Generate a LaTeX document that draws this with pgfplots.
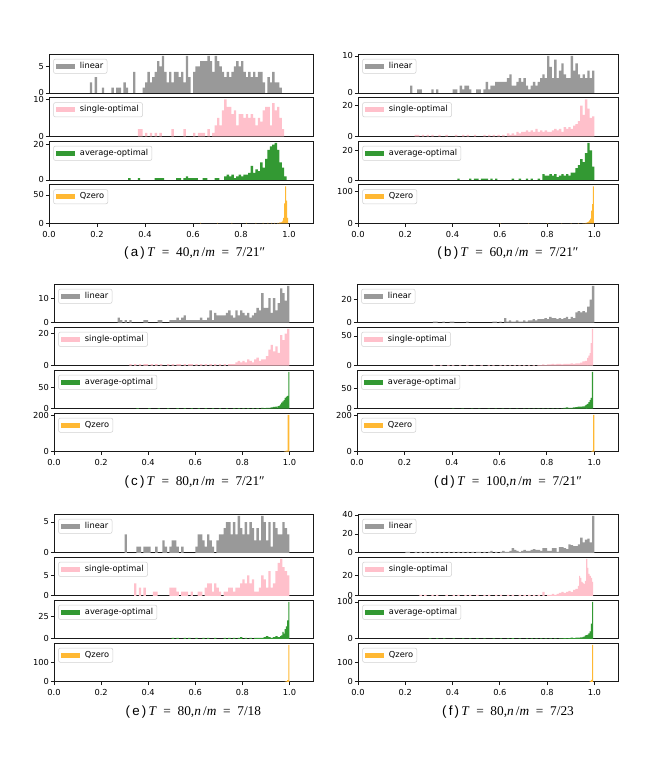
\documentclass[border=0pt]{standalone}
\usepackage{fontspec}
\setmainfont{DejaVu Sans}
\newfontfamily\capserif{Liberation Serif}
\newfontfamily\capsans{Liberation Sans}
\usepackage{pgfplots}
\pgfplotsset{compat=1.18}
\definecolor{cgray}{HTML}{999999}
\definecolor{cpink}{HTML}{FFC0CB}
\definecolor{cgreen}{HTML}{339933}
\definecolor{corange}{HTML}{FFB833}
\newcommand\tickfont{\fontsize{6.2}{7}\selectfont}
\pgfplotsset{
 hb/.style={scale only axis, anchor=north west, xmin=0, xmax=110, ymin=0,
  enlarge y limits={value=0.05,upper},
  axis line style={black!90, line width=0.6pt},
  every tick/.style={black!90, line width=0.5pt},
  major tick length=2.4pt, tick align=outside,
  xtick pos=bottom, ytick pos=left, xtick=\empty,
  ticklabel style={font=\tickfont},
  yticklabel style={inner xsep=1.2pt},
  /pgf/number format/assume math mode=true,
  legend cell align=left,
  legend style={at={(0,1)}, anchor=north west, xshift=3.2pt, yshift=-3.6pt,
    draw=black!18, rounded corners=1.5pt, inner xsep=1.8pt, inner ysep=1.3pt,
    font=\tickfont, nodes={inner sep=1pt},
    /tikz/every odd column/.append style={column sep=3pt},
    /tikz/every even column/.append style={column sep=2pt}},
 },
 hbot/.style={xtick={0,20,40,60,80,100}, xticklabels={0.0,0.2,0.4,0.6,0.8,1.0}},
 leg/.style={legend image code/.code={\fill[##1, sharp corners] (0pt,-1.9pt) rectangle (14pt,1.9pt);}},
 binA/.style={ybar, bar width=1, bar shift=0pt, x filter/.expression={x+0.5}, draw=none, leg},
 binB/.style={ybar, bar width=0.5, bar shift=0pt, x filter/.expression={x+0.25}, draw=none, leg},
 binC/.style={ybar, bar width=0.4, bar shift=0pt, x filter/.expression={x+0.2}, draw=none, leg},
 binD/.style={ybar, bar width=0.8, bar shift=0pt, x filter/.expression={x+0.4}, draw=none, leg},
}
\newcommand\hh[6]{%
\begin{axis}[hb, at={(#1)}, width=#2, height=#3, #4]
#5
\addlegendentry{#6}
\end{axis}}
\newcommand\capt[4]{\node[anchor=center, inner sep=0pt] at (#1) {\fontsize{10}{11}\selectfont{\capsans (\,#2\,)}{\capserif\,\textit{T}\enspace=\enspace#3,\textit{n}\,/\textit{m}\enspace=\enspace#4}};}
\begin{document}
\begin{tikzpicture}
\path[use as bounding box] (0,0) rectangle (498pt,569.25pt);
% ================= (a)
\hh{36.75pt,528.75pt}{198pt}{29.25pt}{ytick={0,5}}{\addplot[binA,fill=cgray] coordinates {(17,2)(19,3)(22,1)(26,1)(28,1)(29,1)(31,2)(32,1)(35,4)(39,1)(40,2)(41,4)(42,2)(43,3)(44,4)(45,6)(46,5)(47,7)(48,4)(49,2)(50,4)(51,2)(52,4)(53,4)(54,3)(55,4)(56,2)(57,7)(58,3)(60,4)(61,5)(62,5)(63,6)(64,6)(65,6)(66,7)(67,6)(68,4)(69,7)(70,6)(71,5)(72,4)(73,3)(74,4)(75,3)(76,4)(77,5)(78,6)(79,5)(80,6)(81,4)(82,3)(83,4)(84,3)(85,4)(86,3)(87,4)(88,4)(89,2)(91,3)(92,2)(93,4)(94,2)(95,2)(96,1)};}{linear}
\hh{36.75pt,496.125pt}{198pt}{29.25pt}{ytick={0,10}}{\addplot[binA,fill=cpink] coordinates {(37,2)(38,2)(40,1)(42,1)(44,1)(46,1)(51,2)(56,2)(60,1)(62,1)(63,1)(64,1)(66,2)(68,1)(69,3)(70,5)(71,3)(72,7)(73,10)(74,8)(75,8)(76,6)(77,7)(78,3)(79,6)(80,6)(81,5)(82,6)(83,5)(84,6)(85,5)(86,3)(87,5)(88,4)(89,7)(90,8)(91,8)(92,3)(93,9)(94,7)(95,8)(96,5)(97,2)};}{single-optimal}
\hh{36.75pt,463.5pt}{198pt}{29.25pt}{ytick={0,20}}{\addplot[binA,fill=cgreen] coordinates {(33,1)(37,1)(44,1)(45,1)(46,1)(47,1)(53,1)(54,1)(56,1)(57,2)(58,1)(59,1)(60,1)(61,1)(64,1)(65,1)(69,1)(70,1)(73,2)(74,3)(75,2)(76,3)(77,1)(78,2)(79,3)(80,2)(81,3)(82,3)(83,4)(84,8)(85,4)(86,6)(87,5)(88,10)(89,7)(90,12)(91,17)(92,19)(93,20)(94,21)(95,17)(96,10)(97,7)(98,2)};}{average-optimal}
\hh{36.75pt,430.875pt}{198pt}{29.25pt}{ytick={0,50},hbot}{\addplot[binC,fill=corange] coordinates {(63,1)(70,1)(76,1)(82,1)(86,1)(89,1)(91,1)(92.6,1)(93.8,1)(95.0,1)(95.6,1)(96.0,2)(96.4,2)(96.8,3)(97.2,5)(97.6,10)(98.0,35)(98.4,65)(98.8,40)(99.2,10)};}{Qzero}
\capt{146pt,379.5pt}{a}{40}{7/21″}
% ================= (b)
\hh{268.5pt,528.75pt}{195pt}{29.25pt}{ytick={0,10}}{\addplot[binA,fill=cgray] coordinates {(22,2)(25,1)(26,1)(31,1)(33,1)(40,1)(41,1)(43,2)(44,1)(45,2)(46,2)(47,1)(50,1)(51,1)(53,1)(54,3)(55,1)(56,2)(57,2)(58,3)(59,3)(60,3)(61,3)(62,3)(63,4)(64,5)(65,2)(66,2)(67,3)(68,4)(69,3)(70,4)(71,2)(72,1)(73,2)(74,3)(75,2)(76,3)(77,4)(78,5)(79,4)(80,10)(81,7)(82,4)(83,9)(84,4)(85,6)(86,8)(87,5)(88,4)(89,4)(90,10)(91,6)(92,8)(93,5)(94,4)(95,5)(96,4)(97,6)(98,4)(99,6)};}{linear}
\hh{268.5pt,496.125pt}{195pt}{29.25pt}{ytick={0,20}}{\addplot[binA,fill=cpink] coordinates {(24,1)(25,1)(27,1)(29,1)(31,1)(34,1)(37,1)(41,1)(44,1)(46,1)(49,1)(53,1)(55,1)(57,1)(59,1)(61,1)(63,2)(64,1)(65,2)(66,1)(67,3)(68,2)(69,3)(70,3)(71,4)(72,3)(73,4)(74,3)(75,5)(76,3)(77,4)(78,3)(79,4)(80,3)(81,3)(82,4)(83,5)(84,4)(85,5)(86,3)(87,6)(88,5)(89,6)(90,5)(91,7)(92,8)(93,10)(94,20)(95,14)(96,24)(97,18)(98,12)(99,13)};}{single-optimal}
\hh{268.5pt,463.5pt}{195pt}{29.25pt}{ytick={0,20}}{\addplot[binA,fill=cgreen] coordinates {(42,1)(47,1)(49,1)(50,1)(52,1)(53,1)(54,1)(56,1)(58,1)(65,1)(68,1)(71,1)(73,1)(76,1)(78,4)(79,3)(80,3)(81,4)(82,3)(83,4)(84,2)(85,3)(86,4)(87,3)(88,4)(89,3)(90,5)(91,5)(92,8)(93,10)(94,14)(95,12)(96,18)(97,25)(98,20)(99,9)};}{average-optimal}
\hh{268.5pt,430.875pt}{195pt}{29.25pt}{ytick={0,100},hbot}{\addplot[binC,fill=corange] coordinates {(60,1)(72,1)(80,1)(86,1)(90,1)(93,1)(95.0,1)(95.8,1)(96.2,2)(96.6,3)(97.0,4)(97.4,6)(97.8,10)(98.2,15)(98.6,40)(99.0,60)(99.4,115)};}{Qzero}
\capt{381pt,379.5pt}{b}{60}{7/21″}
% ================= (c)
\hh{40.5pt,356.25pt}{194.25pt}{29pt}{ytick={0,10}}{\addplot[binA,fill=cgray] coordinates {(27,2)(28,1)(30,1)(32,1)(38,1)(39,1)(44,1)(45,1)(49,1)(50,1)(51,1)(52,2)(53,1)(54,2)(55,3)(56,1)(57,1)(58,1)(59,1)(60,1)(61,1)(62,2)(63,1)(64,1)(65,2)(66,5)(67,1)(68,4)(69,3)(70,3)(71,3)(72,3)(73,4)(74,5)(75,3)(76,2)(77,5)(78,3)(79,5)(80,4)(81,3)(82,4)(83,2)(84,3)(85,4)(86,6)(87,5)(88,12)(89,6)(90,6)(91,10)(92,4)(93,10)(94,5)(95,8)(96,14)(97,12)(98,9)(99,15)};}{linear}
\hh{40.5pt,324pt}{194.25pt}{29pt}{ytick={0,20}}{\addplot[binA,fill=cpink] coordinates {(32,1)(34,1)(36,1)(38,1)(39,1)(41,1)(43,1)(45,1)(48,1)(50,1)(52,1)(53,1)(55,1)(57,1)(58,1)(60,1)(62,1)(64,1)(66,1)(68,1)(70,1)(72,1)(74,1)(75,1)(76,1)(77,2)(78,3)(79,2)(80,3)(81,2)(82,4)(83,3)(84,2)(85,4)(86,5)(87,3)(88,4)(89,4)(90,6)(91,10)(92,13)(93,9)(94,12)(95,8)(96,19)(97,16)(98,20)(99,23)};}{single-optimal}
\hh{40.5pt,291.75pt}{194.25pt}{29pt}{ytick={0,50}}{\addplot[binA,fill=cgreen] coordinates {(35,1)(40,1)(44,1)(48,1)(52,1)(55,1)(58,1)(61,1)(64,1)(67,1)(70,1)(73,1)(76,1)(78,1)(80,1)(82,1)(84,1)(86,1)(88,2)(89,1)(90,2)(91,2)(92,3)(93,4)(94,5)};
\addplot[binB,fill=cgreen] coordinates {(95,6)(95.5,7)(96,10)(96.5,14)(97,17)(97.5,20)(98,25)(98.5,28)(99,30)(99.5,86)};}{average-optimal}
\hh{40.5pt,259.5pt}{194.25pt}{29pt}{ytick={0,200},hbot}{\addplot[binD,fill=corange] coordinates {(97.6,1)(98.4,5)(99.2,202)};}{Qzero}
\capt{146pt,207.75pt}{c}{80}{7/21″}
% ================= (d)
\hh{267.75pt,356.25pt}{195.75pt}{29pt}{ytick={0,20}}{\addplot[binA,fill=cgray] coordinates {(32,1)(33,1)(36,1)(39,1)(40,1)(46,1)(57,1)(58,1)(60,1)(62,4)(63,1)(64,2)(65,1)(66,1)(67,2)(68,1)(69,1)(70,2)(71,1)(72,2)(73,2)(74,3)(75,2)(76,3)(77,3)(78,3)(79,4)(80,3)(81,5)(82,4)(83,4)(84,3)(85,4)(86,3)(87,4)(88,5)(89,3)(90,5)(91,4)(92,9)(93,10)(94,9)(95,10)(96,9)(97,14)(98,20)(99,32)};}{linear}
\hh{267.75pt,324pt}{195.75pt}{29pt}{ytick={0,50}}{\addplot[binA,fill=cpink] coordinates {(32,1)(35,1)(38,1)(40,1)(43,1)(46,1)(49,1)(52,1)(55,1)(57,1)(60,1)(62,1)(64,1)(66,1)(68,1)(70,1)(72,1)(74,1)(76,1)(77,1)(78,2)(79,1)(80,2)(81,2)(82,3)(83,2)(84,3)(85,3)(86,2)(87,3)(88,3)(89,3)(90,4)(91,3)(92,4)(93,4)(94,5)(95,7)(96,8)};
\addplot[binB,fill=cpink] coordinates {(97,13)(97.5,17)(98,21)(98.5,38)(99,62)};}{single-optimal}
\hh{267.75pt,291.75pt}{195.75pt}{29pt}{ytick={0,50}}{\addplot[binA,fill=cgreen] coordinates {(40,1)(44,1)(48,1)(51,1)(55,1)(58,1)(61,1)(64,1)(67,1)(70,1)(72,1)(74,1)(76,1)(78,1)(80,1)(82,1)(84,1)(86,1)(87,2)(88,3)(89,2)(90,2)(91,3)(92,4)(93,5)(94,5)(95,6)(96,8)};
\addplot[binB,fill=cgreen] coordinates {(96.5,10)(97,12)(97.5,16)(98,21)(98.5,27)(99,92)};}{average-optimal}
\hh{267.75pt,259.5pt}{195.75pt}{29pt}{ytick={0,200},hbot}{\addplot[binB,fill=corange] coordinates {(98.5,2)(99,5)(99.5,202)};}{Qzero}
\capt{381pt,207.75pt}{d}{100}{7/21″}
% ================= (e)
\hh{40.5pt,183.75pt}{194.25pt}{29.1pt}{ytick={0,5}}{\addplot[binA,fill=cgray] coordinates {(30,3)(35,1)(36,1)(38,1)(39,1)(40,1)(43,1)(46,2)(47,1)(49,1)(50,2)(51,2)(52,1)(54,1)(60,1)(61,3)(62,3)(63,2)(64,1)(65,3)(66,2)(67,1)(69,2)(70,3)(71,3)(72,4)(73,5)(74,5)(75,3)(76,5)(77,3)(78,6)(79,4)(80,3)(81,5)(82,3)(83,5)(84,4)(85,2)(86,4)(87,2)(88,6)(89,5)(90,2)(91,5)(92,1)(93,5)(94,4)(95,3)(96,3)(97,5)(98,4)(99,3)};}{linear}
\hh{40.5pt,151.5pt}{194.25pt}{29.1pt}{ytick={0,5}}{\addplot[binA,fill=cpink] coordinates {(34,3)(36,2)(38,2)(42,1)(43,1)(49,2)(50,2)(51,2)(52,1)(54,1)(55,1)(56,1)(58,1)(61,1)(62,1)(64,2)(65,3)(66,3)(67,1)(68,3)(69,2)(70,1)(72,1)(73,1)(74,2)(75,2)(76,1)(77,2)(78,2)(79,3)(80,4)(81,3)(82,5)(83,3)(84,4)(85,1)(86,1)(87,2)(88,5)(89,4)(90,2)(91,6)(92,2)(93,3)(94,6)(95,8)(96,9)(97,7)(98,6)(99,5)};}{single-optimal}
\hh{40.5pt,119.25pt}{194.25pt}{29.1pt}{ytick={0,25}}{\addplot[binA,fill=cgreen] coordinates {(50,1)(52,1)(55,1)(57,1)(60,1)(63,1)(65,1)(68,1)(72,1)(74,1)(76,1)(78,1)(79,2)(81,1)(83,1)(85,1)(86,1)(87,1)(88,1)(89,2)(90,3)(91,2)(92,1)(93,2)(94,3)(95,2)(96,3)};
\addplot[binB,fill=cgreen] coordinates {(96.5,4)(97,8)(97.5,6)(98,11)(98.5,14)(99,21)(99.5,42)};}{average-optimal}
\hh{40.5pt,87pt}{194.25pt}{29.1pt}{ytick={0,100},hbot}{\addplot[binB,fill=corange] coordinates {(98,1)(98.5,2)(99,8)(99.5,187)};}{Qzero}
\capt{145pt,35.25pt}{e}{80}{7/18}
% ================= (f)
\hh{268.5pt,183.75pt}{195pt}{29.1pt}{ytick={0,20,40}}{\addplot[binA,fill=cgray] coordinates {(20,1)(21,1)(24,1)(26,1)(28,1)(30,1)(32,1)(34,1)(36,1)(38,1)(40,1)(42,1)(44,1)(46,1)(48,1)(50,1)(51,1)(53,1)(55,1)(56,2)(58,1)(60,1)(61,2)(62,1)(63,1)(64,2)(65,5)(66,3)(67,2)(68,1)(69,2)(70,3)(71,2)(72,2)(73,3)(74,4)(75,3)(76,3)(77,2)(78,5)(79,5)(80,2)(81,2)(82,5)(83,5)(84,1)(85,6)(86,6)(87,5)(88,4)(89,9)(90,8)(91,7)(92,7)(93,9)(94,16)(95,11)(96,14)(97,15)(98,11)(99,39)};}{linear}
\hh{268.5pt,151.5pt}{195pt}{29.1pt}{ytick={0,20}}{\addplot[binA,fill=cpink] coordinates {(26,1)(28,1)(31,1)(33,1)(37,1)(40,1)(42,1)(45,1)(47,1)(50,1)(53,1)(55,1)(58,1)(60,1)(63,1)(65,1)(68,1)(70,1)(72,1)(74,1)(76,1)(78,4)(80,1)(81,1)(82,2)(83,1)(84,2)(85,3)(86,4)(87,3)(88,4)(89,5)(90,4)(91,6)(92,7)};
\addplot[binB,fill=cpink] coordinates {(93,10)(93.5,20)(94,18)(94.5,14)(95,13)(95.5,12)(96,15)(96.5,37)(97,28)(97.5,22)(98,20)(98.5,18)(99,14)};}{single-optimal}
\hh{268.5pt,119.25pt}{195pt}{29.1pt}{ytick={0,100}}{\addplot[binA,fill=cgreen] coordinates {(30,1)(33,1)(36,1)(40,1)(44,1)(47,1)(50,1)(53,1)(57,1)(60,1)(63,1)(65,2)(68,1)(71,1)(73,1)(75,1)(77,1)(79,1)(81,1)(83,1)(85,1)(86,1)(87,2)(88,1)(89,2)(90,3)(91,2)(92,3)(93,3)(94,4)(95,5)};
\addplot[binB,fill=cgreen] coordinates {(95.5,6)(96,9)(96.5,10)(97,11)(97.5,15)(98,20)(98.5,41)(99,100)};}{average-optimal}
\hh{268.5pt,87pt}{195pt}{29.1pt}{ytick={0,100},hbot}{\addplot[binB,fill=corange] coordinates {(98,2)(98.5,10)(99,193)};}{Qzero}
\capt{381pt,35.25pt}{f}{80}{7/23}
\end{tikzpicture}
\end{document}
